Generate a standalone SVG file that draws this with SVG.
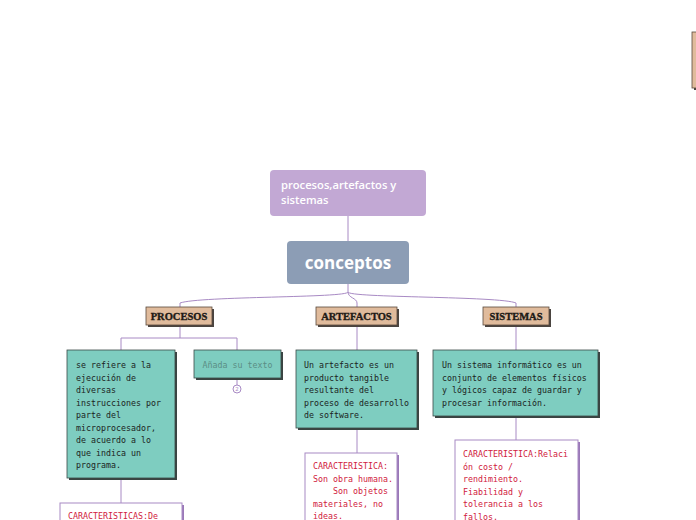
<svg xmlns="http://www.w3.org/2000/svg" width="696" height="520" viewBox="0 0 696 520">
<defs>
<style>
.conn{fill:none;stroke:#a88ac4;stroke-width:1}
.tan{fill:#e0bb9c;stroke:#5a4a3e;stroke-width:0.8}
.tshadow{fill:#4a4440}
.lbl{font-family:"Liberation Serif","DejaVu Serif",serif;font-weight:bold;font-size:10.5px;fill:#1e1a16;stroke:#1e1a16;stroke-width:0.35;text-anchor:middle}
.teal{fill:#7ecdc0;stroke:#3c4a48;stroke-width:0.8}
.shd{fill:#3a4442}
.mono{font-family:"DejaVu Sans Mono","Liberation Mono",monospace;font-size:8.3px;fill:#1c2422}
.red{font-family:"DejaVu Sans Mono","Liberation Mono",monospace;font-size:8.3px;fill:#d0203c}
.wbox{fill:#ffffff;stroke:#a88ac4;stroke-width:1}
.pshd{fill:#9a78b8}
</style>
</defs>
<rect width="696" height="520" fill="#ffffff"/>
<g id="connectors">
<line class="conn" x1="348" y1="216" x2="348" y2="242" stroke="#7a4aa8"/>
<path class="conn" d="M348 284 V292 C348 298 200 296 180 303 V307"/>
<path class="conn" d="M348 292 C348 298 357 298 357 303 V307"/>
<path class="conn" d="M348 292 C348 298 500 296 516 303 V307"/>
<path class="conn" d="M180 325 V338 M121 338 H237 M121 338 V350 M237 338 V350"/>
<line class="conn" x1="237" y1="378" x2="237" y2="385"/>
<line class="conn" x1="121" y1="478" x2="121" y2="503"/>
<line class="conn" x1="357" y1="325" x2="357" y2="350"/>
<line class="conn" x1="357" y1="428" x2="357" y2="453"/>
<line class="conn" x1="516" y1="325" x2="516" y2="351"/>
<line class="conn" x1="516" y1="416" x2="516" y2="440"/>
</g>
<g id="root">
<rect x="270" y="170" width="156" height="46" rx="4" fill="#c2a8d4"/>
<text x="281" y="189" font-family="Open Sans, sans-serif" font-weight="600" font-size="11.2" fill="#ffffff">procesos,artefactos y</text>
<text x="281" y="204" font-family="Open Sans, sans-serif" font-weight="600" font-size="11.2" fill="#ffffff">sistemas</text>
</g>
<g id="conceptos">
<rect x="287" y="241" width="122" height="43" rx="4" fill="#8c9db5"/>
<text x="348" y="269" font-family="Open Sans, sans-serif" font-weight="bold" font-size="17" fill="#ffffff" text-anchor="middle">conceptos</text>
</g>
<g id="procesos">
<rect class="tshadow" x="148" y="309" width="66" height="18"/>
<rect class="tan" x="146" y="307" width="66" height="18"/>
<text class="lbl" x="179" y="320">PROCESOS</text>
</g>
<g id="artefactos">
<rect class="tshadow" x="318" y="309" width="81" height="18"/>
<rect class="tan" x="316" y="307" width="81" height="18"/>
<text class="lbl" x="356.5" y="320">ARTEFACTOS</text>
</g>
<g id="sistemas">
<rect class="tshadow" x="485" y="309" width="66" height="18"/>
<rect class="tan" x="483" y="307" width="66" height="18"/>
<text class="lbl" x="516" y="320">SISTEMAS</text>
</g>
<g id="procesos-def">
<rect class="shd" x="69" y="352" width="108" height="128"/>
<rect class="teal" x="67" y="350" width="108" height="128"/>
<text class="mono"><tspan x="76" y="368">se refiere a la</tspan><tspan x="76" y="380.5">ejecución de</tspan><tspan x="76" y="393">diversas</tspan><tspan x="76" y="405.5">instrucciones por</tspan><tspan x="76" y="418">parte del</tspan><tspan x="76" y="430.5">microprocesador,</tspan><tspan x="76" y="443">de acuerdo a lo</tspan><tspan x="76" y="455.5">que indica un</tspan><tspan x="76" y="468">programa.</tspan></text>
</g>
<g id="anada">
<rect class="shd" x="196" y="352" width="87" height="28"/>
<rect class="teal" x="194" y="350" width="87" height="28"/>
<text class="mono" x="237.5" y="367.5" text-anchor="middle" style="fill:#5b8d85">Añada su texto</text>
<circle cx="237" cy="389" r="4" fill="#ffffff" stroke="#a88ac4" stroke-width="1"/>
<text x="237" y="391.3" font-family="DejaVu Sans, sans-serif" font-size="5.5" fill="#a88ac4" text-anchor="middle">2</text>
</g>
<g id="procesos-car">
<rect class="pshd" x="62" y="505" width="122" height="20"/>
<rect class="wbox" x="60" y="503" width="122" height="20"/>
<text class="red" x="68" y="519">CARACTERISTICAS:De</text>
</g>
<g id="artefactos-def">
<rect class="shd" x="298" y="352" width="121" height="78"/>
<rect class="teal" x="296" y="350" width="121" height="78"/>
<text class="mono"><tspan x="304" y="368">Un artefacto es un</tspan><tspan x="304" y="380.5">producto tangible</tspan><tspan x="304" y="393">resultante del</tspan><tspan x="304" y="405.5">proceso de desarrollo</tspan><tspan x="304" y="418">de software.</tspan></text>
</g>
<g id="artefactos-car">
<rect class="pshd" x="307" y="455" width="92" height="70"/>
<rect class="wbox" x="305" y="453" width="92" height="70"/>
<text class="red"><tspan x="313" y="469">CARACTERISTICA:</tspan><tspan x="313" y="481.5">Son obra humana.</tspan><tspan x="333" y="494">Son objetos</tspan><tspan x="313" y="506.5">materiales, no</tspan><tspan x="313" y="519">ideas.</tspan></text>
</g>
<g id="sistemas-def">
<rect class="shd" x="435" y="352" width="165" height="66"/>
<rect class="teal" x="433" y="350" width="165" height="66"/>
<text class="mono"><tspan x="442" y="368">Un sistema informático es un</tspan><tspan x="442" y="380.5">conjunto de elementos físicos</tspan><tspan x="442" y="393">y lógicos capaz de guardar y</tspan><tspan x="442" y="405.5">procesar información.</tspan></text>
</g>
<g id="sistemas-car">
<rect class="pshd" x="457" y="442" width="123" height="82"/>
<rect class="wbox" x="455" y="440" width="123" height="82"/>
<text class="red"><tspan x="463" y="457">CARACTERISTICA:Relaci</tspan><tspan x="463" y="469.5">ón costo /</tspan><tspan x="463" y="482">rendimiento.</tspan><tspan x="463" y="494.5">Fiabilidad y</tspan><tspan x="463" y="507">tolerancia a los</tspan><tspan x="463" y="519.5">fallos.</tspan></text>
</g>
<g id="edge-node">
<rect class="tshadow" x="694" y="34" width="4" height="56"/>
<rect class="tan" x="692" y="32" width="6" height="56"/>
</g>
</svg>
